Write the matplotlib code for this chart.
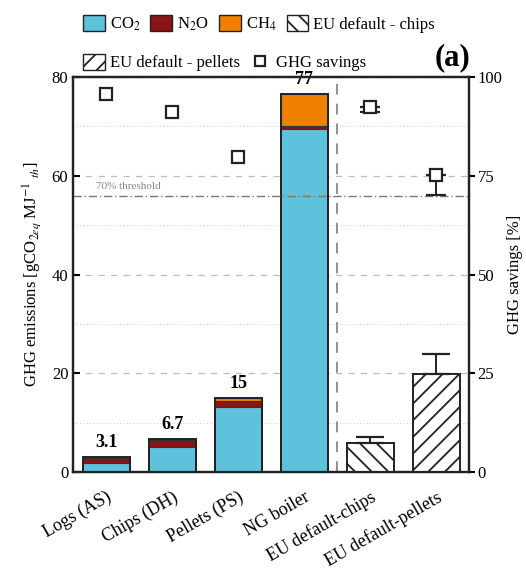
import matplotlib
matplotlib.use("Agg")
import matplotlib.pyplot as plt
from matplotlib.patches import Patch
from matplotlib.lines import Line2D
from matplotlib.ticker import MultipleLocator

plt.rcParams['font.family'] = ['Liberation Serif', 'DejaVu Serif']
plt.rcParams['mathtext.fontset'] = 'stix'
plt.rcParams['hatch.linewidth'] = 1.3

# data
cats = ['Logs (AS)', 'Chips (DH)', 'Pellets (PS)', 'NG boiler',
        'EU default-chips', 'EU default-pellets']
co2 = [1.9, 5.0, 13.2, 69.5]
n2o = [1.0, 1.5, 1.1, 0.6]
ch4 = [0.2, 0.2, 0.7, 6.5]
totals_lbl = ['3.1', '6.7', '15', '77']
eu_vals = [5.9, 19.8]
eu_err = [1.3, 4.2]
eu_hatch = ['\\\\', '//']
sav_x = [0, 1, 2, 4, 5]
savings = [95.7, 91.2, 79.8, 92.5, 75.2]
sav_err = [0, 0, 0, 1.4, 5.0]
threshold = 70

c_co2 = '#5dc2dc'
c_n2o = '#8b1414'
c_ch4 = '#f08000'

fig = plt.figure(figsize=(5.26, 5.75), dpi=100)
ax = fig.add_axes([0.139, 0.179, 0.753, 0.687])
ax2 = ax.twinx()

ax.set_axisbelow(True)
ax.yaxis.set_major_locator(MultipleLocator(20))
ax.yaxis.set_minor_locator(MultipleLocator(10))
ax.grid(axis='y', which='major', ls=(0, (5, 5)), color='#bbbbbb', lw=0.9)
ax.grid(axis='y', which='minor', ls=(0, (1, 2)), color='#cccccc', lw=0.8)

w = 0.71
n = len(co2)
xs = list(range(n))
ax.bar(xs, co2, w, color=c_co2, edgecolor='#333333', lw=1.2, zorder=3)
bot2 = co2
ax.bar(xs, n2o, w, bottom=bot2, color=c_n2o, edgecolor='#333333', lw=0.8, zorder=3)
bot3 = [a + b for a, b in zip(co2, n2o)]
ax.bar(xs, ch4, w, bottom=bot3, color=c_ch4, edgecolor='#333333', lw=0.8, zorder=3)
tot = [a + b for a, b in zip(bot3, ch4)]
# outline
ax.bar(xs, tot, w, fill=False, edgecolor='#222222', lw=1.4, zorder=4)
for x, t, s in zip(xs, tot, totals_lbl):
    ax.annotate(s, (x, t), xytext=(0, 4), textcoords='offset points',
                ha='center', va='bottom', fontsize=13, fontweight='bold', zorder=6)

eu_x = [4, 5]
for x, v, e, h in zip(eu_x, eu_vals, eu_err, eu_hatch):
    ax.bar(x, v, w, color='white', edgecolor='#222222', hatch=h, lw=1.4, zorder=3)
    ax.errorbar(x, v, yerr=[[0], [e]], fmt='none', ecolor='#222222',
                elinewidth=1.4, capsize=10, capthick=1.6, zorder=4)

ax.axvline(3.5, color='#888888', ls=(0, (6, 5)), lw=1.3, zorder=2)

ax.set_xlim(-0.5, 5.5)
ax.set_ylim(0, 80)
ax.set_xticks(range(len(cats)))
ax.set_xticklabels(cats, rotation=30, ha='right', rotation_mode='anchor', fontsize=13)
ax.tick_params(axis='x', length=0, pad=12)
ax.tick_params(axis='y', which='major', direction='in', length=5, width=1.5, labelsize=12)
ax.tick_params(axis='y', which='minor', length=0)
ax.set_ylabel(r'GHG emissions [gCO$_{2eq}$ MJ$^{-1}$ $_{th}$]', fontsize=12, labelpad=6)

ax2.set_ylim(0, 100)
ax2.set_yticks([0, 25, 50, 75, 100])
ax2.tick_params(axis='y', direction='out', length=4, width=1.5, labelsize=12, pad=2)
ax2.set_ylabel('GHG savings [%]', fontsize=12, labelpad=3)
ax2.axhline(threshold, color='#777777', ls=(0, (6, 2, 1, 2)), lw=1.0, zorder=1)
ax2.text(-0.15, threshold + 1.2, '70% threshold', fontsize=8, color='#888888', va='bottom')
ax2.plot(sav_x, savings, 's', ms=8, mfc='white', mec='#222222', mew=1.6, zorder=6)
ex = [x for x, e in zip(sav_x, sav_err) if e > 0]
ey = [s for s, e in zip(savings, sav_err) if e > 0]
ee = [e for e in sav_err if e > 0]
ax2.errorbar(ex, ey, yerr=[ee, [0] * len(ee)], fmt='none', ecolor='#222222',
             elinewidth=1.4, capsize=7, capthick=1.6, zorder=5)

for a in (ax, ax2):
    for sp in a.spines.values():
        sp.set_linewidth(1.6)
        sp.set_color('#222222')

h1 = [Patch(facecolor=c_co2, edgecolor='#222222', label='CO$_2$'),
      Patch(facecolor=c_n2o, edgecolor='#222222', label='N$_2$O'),
      Patch(facecolor=c_ch4, edgecolor='#222222', label='CH$_4$'),
      Patch(facecolor='white', edgecolor='#222222', hatch='\\\\', label='EU default - chips')]
h2 = [Patch(facecolor='white', edgecolor='#222222', hatch='//', label='EU default - pellets'),
      Line2D([], [], marker='s', ls='none', ms=7, mfc='white', mec='#222222', mew=1.6,
             label='GHG savings')]
kw = dict(frameon=False, fontsize=12, handlelength=1.3, handleheight=1.1,
          handletextpad=0.3, columnspacing=0.6, borderaxespad=0)
fig.legend(handles=h1, ncol=4, loc='upper left', bbox_to_anchor=(0.145, 0.985), **kw)
fig.legend(handles=h2, ncol=2, loc='upper left', bbox_to_anchor=(0.145, 0.918), **kw)
fig.text(0.895, 0.875, '(a)', fontsize=22, fontweight='bold', ha='right', va='bottom')

fig.savefig('out.png', dpi=100)
